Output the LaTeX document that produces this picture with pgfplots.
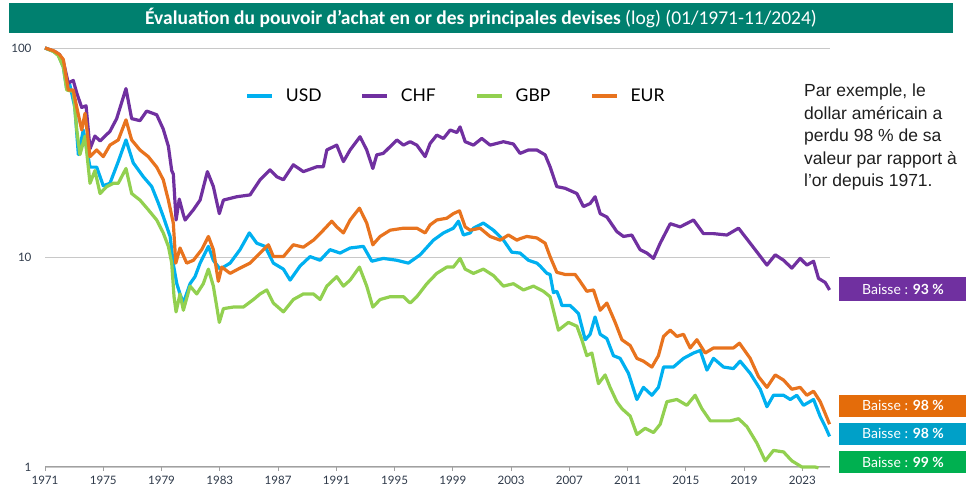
\documentclass[border=0pt]{standalone}
\usepackage{pgfplots}
\pgfplotsset{compat=1.18}
\usepackage{fontspec}
\setmainfont{Lato}
\newfontfamily\carlito{Carlito}
\newfontfamily\arialf{Liberation Sans}
\definecolor{usd}{HTML}{00B0F0}
\definecolor{chf}{HTML}{7030A0}
\definecolor{gbp}{HTML}{92D050}
\definecolor{eur}{HTML}{E8731E}
\definecolor{bandeau}{HTML}{00806F}
\definecolor{bpurple}{HTML}{7030A0}
\definecolor{borange}{HTML}{E46C0A}
\definecolor{bblue}{HTML}{00A0C8}
\definecolor{bgreen}{HTML}{00B050}
\definecolor{gridgray}{HTML}{C8C8C8}
\definecolor{axisgray}{HTML}{A0A0A0}
\definecolor{lbl}{HTML}{2F3A4A}
\definecolor{annot}{HTML}{1F1F1F}

\pgfplotstableread{
year val
1971.00 100
1971.50 97
1971.91 93
1972.26 81
1972.49 64
1972.70 67
1973.05 52
1973.29 31
1973.63 40.6
1974.09 27
1974.55 27
1975.00 22
1975.46 22.6
1976.03 28.7
1976.56 36.4
1977.06 28.3
1977.75 24.3
1978.33 21.8
1978.78 18.2
1979.12 15.7
1979.59 12.6
1979.81 9.3
1980.05 7.5
1980.27 6.7
1980.50 6.06
1980.96 7.5
1981.30 8.1
1981.65 9.4
1982.22 11.3
1982.56 9.7
1983.02 8.8
1983.71 9.4
1984.39 10.9
1985.03 13.1
1985.54 11.7
1986.11 11.3
1986.68 9.4
1987.37 8.8
1987.83 7.8
1988.51 9.1
1989.20 10.1
1989.89 9.7
1990.57 10.9
1991.26 10.5
1991.95 11.1
1992.86 11.3
1993.44 9.6
1994.23 9.9
1995.16 9.7
1995.95 9.4
1996.76 10.3
1997.67 12.1
1998.36 13.1
1999.04 13.8
1999.39 14.9
1999.73 12.8
2000.19 13.1
2000.42 13.8
2001.10 14.6
2001.79 13.5
2002.48 12.1
2003.05 10.6
2003.62 10.5
2004.19 9.7
2004.77 9.4
2005.00 9.1
2005.46 8.4
2005.68 8.3
2005.91 6.8
2006.14 6.9
2006.37 6.3
2006.49 5.9
2007.06 5.9
2007.63 5.4
2008.09 4.05
2008.43 4.3
2008.77 5.2
2009.12 4.3
2009.58 4.1
2010.03 3.4
2010.49 3.3
2011.06 2.8
2011.64 2.1
2012.09 2.4
2012.67 2.2
2013.12 2.4
2013.47 3.0
2014.15 3.0
2014.84 3.3
2015.53 3.5
2015.99 3.6
2016.45 2.9
2016.90 3.3
2017.59 3.0
2018.27 2.95
2018.73 3.2
2019.42 2.8
2020.11 2.35
2020.57 1.94
2021.02 2.2
2021.71 2.2
2022.17 2.1
2022.62 2.2
2023.08 1.97
2023.77 2.1
2024.23 1.74
2024.57 1.56
2024.87 1.4
}\usdtab

\pgfplotstableread{
year val
1971.00 100
1971.70 96
1972.00 93
1972.26 86
1972.60 68
1972.94 70
1973.18 61
1973.52 52
1973.82 53
1974.09 33
1974.43 38
1974.78 36
1975.46 40
1975.92 46
1976.56 64
1976.95 46
1977.52 45
1977.98 50
1978.67 48
1979.12 41
1979.47 34
1979.70 26
1979.81 25
1980.00 15.1
1980.22 19
1980.50 16
1980.62 15.1
1981.19 16.9
1981.65 18.8
1982.15 25.7
1982.56 21.8
1982.97 16.2
1983.25 18.8
1984.17 19.5
1985.08 19.9
1985.77 23.5
1986.45 26.2
1986.91 24.3
1987.37 23.5
1988.05 27.7
1988.74 25.7
1989.66 27.1
1990.11 27.1
1990.35 32.6
1991.03 34.4
1991.49 28.7
1991.95 32.6
1992.63 37.7
1993.09 32.6
1993.51 26.6
1993.78 30.9
1994.23 31.4
1995.16 36.4
1995.61 34.4
1996.07 35.7
1996.53 34.4
1997.10 30.3
1997.44 35
1997.90 38.4
1998.36 37
1998.82 40.6
1999.28 39.5
1999.50 42
1999.85 35.7
2000.42 34.4
2000.99 37
2001.56 34.4
2002.48 35.7
2003.16 34.8
2003.62 31.4
2004.19 32.6
2004.77 32.6
2005.34 30.9
2005.68 27.1
2006.14 21.8
2006.71 21.4
2007.52 20.2
2007.97 17.5
2008.43 18.1
2008.77 19.5
2009.12 16.2
2009.58 15.6
2010.26 13.3
2010.72 12.6
2011.29 12.8
2011.86 10.9
2012.33 10.5
2012.78 9.9
2013.24 11.7
2013.93 14.5
2014.61 14.0
2015.53 15.1
2016.21 13.0
2016.90 13.0
2017.82 12.8
2018.62 13.8
2019.42 11.7
2020.57 9.2
2021.14 10.3
2021.71 9.7
2022.28 8.9
2022.85 9.9
2023.31 9.2
2023.77 9.6
2024.11 7.95
2024.57 7.6
2024.87 7.0
}\chftab

\pgfplotstableread{
year val
1971.00 100
1971.60 96
1971.91 92
1972.26 81
1972.49 63
1972.94 62
1973.18 40.6
1973.40 31
1973.75 38
1974.09 22.6
1974.43 26
1974.78 20.2
1975.24 21.8
1975.69 22.6
1976.03 22.6
1976.56 26.6
1976.95 20.2
1977.52 18.8
1978.09 16.9
1978.67 15.1
1979.12 13.1
1979.47 11.3
1979.70 9.4
1979.86 6.5
1980.00 5.5
1980.27 6.7
1980.50 5.6
1980.96 7.3
1981.42 6.7
1981.87 7.5
1982.22 8.8
1982.56 7.3
1982.97 4.9
1983.25 5.7
1983.93 5.8
1984.62 5.8
1985.31 6.3
1985.77 6.7
1986.23 7.0
1986.68 6.06
1987.37 5.5
1988.05 6.3
1988.74 6.7
1989.43 6.7
1989.89 6.3
1990.35 7.3
1991.03 8.1
1991.49 7.3
1991.95 7.8
1992.59 9.0
1993.09 7.3
1993.51 5.8
1994.01 6.3
1994.70 6.5
1995.61 6.5
1996.07 6.06
1996.53 6.5
1997.22 7.5
1997.90 8.4
1998.59 9.0
1999.04 9.0
1999.50 9.9
1999.85 8.8
2000.42 8.4
2001.10 8.8
2001.79 8.2
2002.48 7.3
2003.16 7.5
2003.85 7.0
2004.54 7.3
2005.22 6.9
2005.68 6.5
2006.25 4.5
2006.94 4.9
2007.52 4.7
2007.86 4.05
2008.20 3.4
2008.55 3.5
2009.00 2.5
2009.46 2.75
2009.80 2.4
2010.26 2.05
2010.61 1.9
2011.18 1.75
2011.64 1.43
2012.21 1.53
2012.78 1.46
2013.24 1.6
2013.70 2.05
2014.39 2.1
2015.07 1.97
2015.64 2.2
2016.10 1.9
2016.68 1.66
2017.36 1.66
2018.05 1.66
2018.62 1.7
2019.19 1.56
2019.88 1.3
2020.45 1.07
2021.02 1.2
2021.71 1.18
2022.28 1.07
2022.97 1.0
2023.42 1.0
2023.88 1.0
2024.11 0.99
}\gbptab

\pgfplotstableread{
year val
1971.00 100
1971.60 97
1972.00 93
1972.26 88
1972.60 63
1972.94 63
1973.22 50.6
1973.52 40.6
1973.75 48.8
1974.09 30.3
1974.55 32.6
1975.00 30.3
1975.46 34.4
1976.03 36.4
1976.56 45.4
1976.95 36.4
1977.52 32.6
1978.09 30.3
1978.67 27
1979.12 23.5
1979.47 18.8
1979.81 14.6
1979.98 9.4
1980.27 11.1
1980.73 9.4
1981.19 9.7
1981.76 10.9
1982.22 12.6
1982.56 10.9
1982.90 7.7
1983.14 9.0
1983.71 8.4
1984.39 8.9
1985.08 9.4
1985.77 10.5
1986.34 11.5
1986.68 10.1
1987.37 10.1
1988.05 11.5
1988.74 11.2
1989.43 12.1
1990.11 13.5
1990.69 14.9
1991.03 14.0
1991.49 13.1
1991.95 15.1
1992.59 17.2
1993.09 14.6
1993.51 11.5
1994.01 12.6
1994.70 13.5
1995.61 13.8
1996.53 13.8
1997.10 13.1
1997.44 14.3
1997.90 15.1
1998.59 15.4
1999.04 16.2
1999.46 16.7
1999.85 14.0
2000.19 13.5
2000.88 13.8
2001.56 12.6
2002.25 12.1
2002.82 12.8
2003.40 12.1
2003.62 12.3
2004.08 12.6
2004.77 12.4
2005.34 11.7
2005.68 10.1
2006.14 8.5
2006.71 8.3
2007.40 8.3
2007.74 7.7
2008.20 6.9
2008.66 7.0
2009.12 5.6
2009.58 6.06
2010.15 4.9
2010.61 4.05
2011.18 3.8
2011.64 3.3
2012.09 3.2
2012.67 3.0
2013.12 3.4
2013.47 4.2
2013.93 4.5
2014.39 4.2
2014.84 4.3
2015.30 3.7
2015.76 4.05
2016.33 3.5
2016.90 3.7
2017.59 3.7
2018.27 3.7
2018.68 3.9
2019.42 3.3
2019.99 2.7
2020.57 2.4
2021.14 2.75
2021.71 2.6
2022.28 2.35
2022.85 2.4
2023.31 2.2
2023.77 2.3
2024.23 2.05
2024.57 1.8
2024.87 1.6
}\eurtab

\begin{document}
\begin{tikzpicture}[x=1pt,y=1pt]
\path[use as bounding box] (0,0) rectangle (966,489);
\fill[bandeau] (9,456) rectangle (953,486);
\node[text=white, font=\carlito\fontsize{19.5}{22}\selectfont, inner sep=0pt] at (481,471)
  {\textbf{Évaluation du pouvoir d’achat en or des principales devises} (log) (01/1971-11/2024)};
\begin{axis}[
  at={(45pt,22pt)}, anchor=south west,
  scale only axis, width=785pt, height=419pt,
  xmin=1971, xmax=2024.9,
  ymode=log, ymin=1, ymax=100,
  clip=false,
  axis lines*=left,
  y axis line style={draw=none},
  x axis line style={draw=axisgray, line width=1pt},
  xtick={1971,1975,1979,1983,1987,1991,1995,1999,2003,2007,2011,2015,2019,2023},
  xticklabels={1971,1975,1979,1983,1987,1991,1995,1999,2003,2007,2011,2015,2019,2023},
  ytick={1,10,100}, yticklabels={1,10,100},
  ymajorgrids, grid style={draw=gridgray, line width=0.8pt},
  tick align=outside, major tick length=4pt,
  xtick style={draw=axisgray, line width=0.8pt},
  ytick style={draw=none},
  minor tick num=0,
  xticklabel style={font=\fontsize{11.6}{13}\selectfont, text=lbl, yshift=-2pt},
  yticklabel style={font=\fontsize{11.6}{13}\selectfont, text=lbl, xshift=-6pt},
  legend columns=4,
  legend style={at={(rel axis cs:0.2548,0.8854)}, anchor=west, draw=none, fill=none,
    inner sep=0pt, nodes={inner sep=0pt}, font=\fontsize{17.5}{21}\selectfont,
    /tikz/every odd column/.append style={column sep=11.4pt}},
  legend image code/.code={\draw[#1, line width=4.3pt] (0pt,0pt) -- (25pt,0pt);},
  every axis plot/.append style={line width=3.2pt, line join=round},
]
\addplot[usd, no marks] table[x=year,y=val] {\usdtab};
\addlegendentry{\makebox[74.2pt][l]{USD}}
\addplot[chf, no marks] table[x=year,y=val] {\chftab};
\addlegendentry{\makebox[74.2pt][l]{CHF}}
\addplot[gbp, no marks] table[x=year,y=val] {\gbptab};
\addlegendentry{\makebox[74.2pt][l]{GBP}}
\addplot[eur, no marks] table[x=year,y=val] {\eurtab};
\addlegendentry{\makebox[36pt][l]{EUR}}
\end{axis}
\begin{scope}[every node/.style={anchor=base west, inner sep=0pt, text=annot, font=\arialf\fontsize{17.5}{21}\selectfont}]
\node at (804,392.3) {Par exemple, le};
\node at (804,369.7) {dollar américain a};
\node at (804,347.3) {perdu 98 \% de sa};
\node at (804,324.7) {valeur par rapport à};
\node at (804,302.3) {l’or depuis 1971.};
\end{scope}
\fill[bpurple] (839.3,188.3) rectangle (966,211.7);
\fill[borange] (839.3,72.3) rectangle (966,94);
\fill[bblue] (839.3,44) rectangle (966,66.3);
\fill[bgreen] (839.3,15.7) rectangle (966,38.3);
\begin{scope}[every node/.style={text=white, inner sep=0pt, font=\fontsize{14}{16}\selectfont}]
\node at (903,200) {Baisse : \textbf{93 \%}};
\node at (903,83.1) {Baisse : \textbf{98 \%}};
\node at (903,55.1) {Baisse : \textbf{98 \%}};
\node at (903,27) {Baisse : \textbf{99 \%}};
\end{scope}
\end{tikzpicture}
\end{document}
